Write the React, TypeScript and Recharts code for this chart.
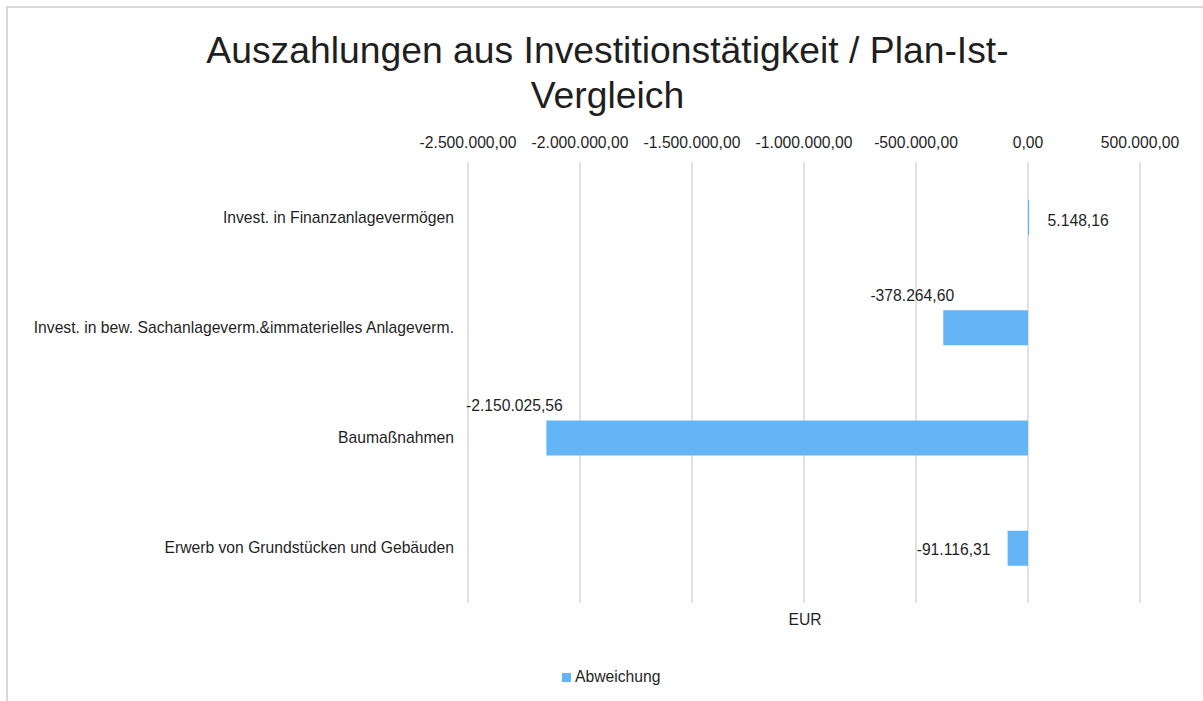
import React from "react";
import { BarChart, Bar, XAxis, YAxis, CartesianGrid, Legend, LabelList } from "recharts";

const categories = [
  "Invest. in Finanzanlagevermögen",
  "Invest. in bew. Sachanlageverm.&immaterielles Anlageverm.",
  "Baumaßnahmen",
  "Erwerb von Grundstücken und Gebäuden",
];
const abweichung = [5148.16, -378264.6, -2150025.56, -91116.31];
const xTicks = [-2500000, -2000000, -1500000, -1000000, -500000, 0, 500000];
const seriesName = "Abweichung";
const axisTitle = "EUR";
const titleLines = ["Auszahlungen aus Investitionstätigkeit / Plan-Ist-", "Vergleich"];

const data = categories.map((name, i) => ({ name, value: abweichung[i] }));

const FONT = "'Liberation Sans', Arial, sans-serif";
const TEXT = "#1f1f1f";
const BAR = "#64B5F6";
const GRID = "#d9d9d9";
const FS = 15.7;

function fmt(v: number): string {
  const neg = v < 0;
  const abs = Math.abs(v);
  const fixed = abs.toFixed(2);
  const [intPart, dec] = fixed.split(".");
  const withDots = intPart.replace(/\B(?=(\d{3})+(?!\d))/g, ".");
  return (neg ? "-" : "") + withDots + "," + dec;
}

// label placement relative to bar (Excel-like auto positions)
const labelPlacement = [
  { from: "right", dx: 49, dy: 20 },
  { from: "left", dx: -31, dy: -15 },
  { from: "left", dx: -32, dy: -15 },
  { from: "left", dx: -54, dy: 19 },
];

const DataLabel = (props: any) => {
  const { x, y, width, value, index } = props;
  const left = Math.min(x, x + width);
  const right = Math.max(x, x + width);
  const p = labelPlacement[index] || { from: "left", dx: 0, dy: 0 };
  const cx = (p.from === "right" ? right : left) + p.dx;
  const cy = y + p.dy;
  return (
    <text x={cx} y={cy} dy="0.355em" textAnchor="middle" fontSize={FS} fontFamily={FONT} fill={TEXT}>
      {fmt(value)}
    </text>
  );
};

const LegendContent = () => (
  <div style={{ display: "flex", alignItems: "center", paddingLeft: 562, height: 20, fontFamily: FONT, fontSize: FS, color: TEXT }}>
    <span style={{ display: "inline-block", width: 9, height: 9, background: BAR, marginRight: 4 }} />
    <span>{seriesName}</span>
  </div>
);

export default function App() {
  return (
    <div style={{ position: "absolute", left: 0, top: 0, width: 1203, height: 701, overflow: "hidden", background: "#fff" }}>
      <div style={{ position: "absolute", left: 6, top: 6, width: 1400, height: 900, borderLeft: `2px solid ${GRID}`, borderTop: `2px solid ${GRID}` }} />
      <svg style={{ position: "absolute", left: 0, top: 0 }} width={1203} height={701}>
        <text x={607.5} y={63} textAnchor="middle" fontSize={37.3} fontFamily={FONT} fill={TEXT}>{titleLines[0]}</text>
        <text x={607.5} y={108} textAnchor="middle" fontSize={37.3} fontFamily={FONT} fill={TEXT}>{titleLines[1]}</text>
        <text x={805} y={625} textAnchor="middle" fontSize={FS} fontFamily={FONT} fill={TEXT}>{axisTitle}</text>
      </svg>
      <div style={{ position: "absolute", left: 0, top: 0 }}>
        <BarChart
          width={1203}
          height={701}
          data={data}
          layout="vertical"
          margin={{ top: 132, right: 63, bottom: 98, left: 0 }}
          barSize={35}
        >
          <CartesianGrid horizontal={false} vertical stroke={GRID} strokeWidth={1.5} />
          <XAxis
            type="number"
            orientation="top"
            domain={[-2500000, 500000]}
            ticks={xTicks}
            height={30}
            axisLine={false}
            tickLine={false}
            tickSize={0}
            tickMargin={14}
            interval={0}
            tickFormatter={fmt}
            tick={{ fontSize: FS, fontFamily: FONT, fill: TEXT }}
          />
          <YAxis
            type="category"
            dataKey="name"
            width={468}
            axisLine={false}
            tickLine={false}
            tickSize={0}
            tickMargin={14}
            interval={0}
            tick={{ fontSize: FS, fontFamily: FONT, fill: TEXT }}
          />
          <Legend
            verticalAlign="middle"
            align="center"
            content={LegendContent}
            wrapperStyle={{ position: "absolute", left: 0, top: 667, width: 1203, height: 20 }}
          />
          <Bar dataKey="value" name={seriesName} fill={BAR} isAnimationActive={false}>
            <LabelList dataKey="value" content={DataLabel} />
          </Bar>
        </BarChart>
      </div>
    </div>
  );
}
